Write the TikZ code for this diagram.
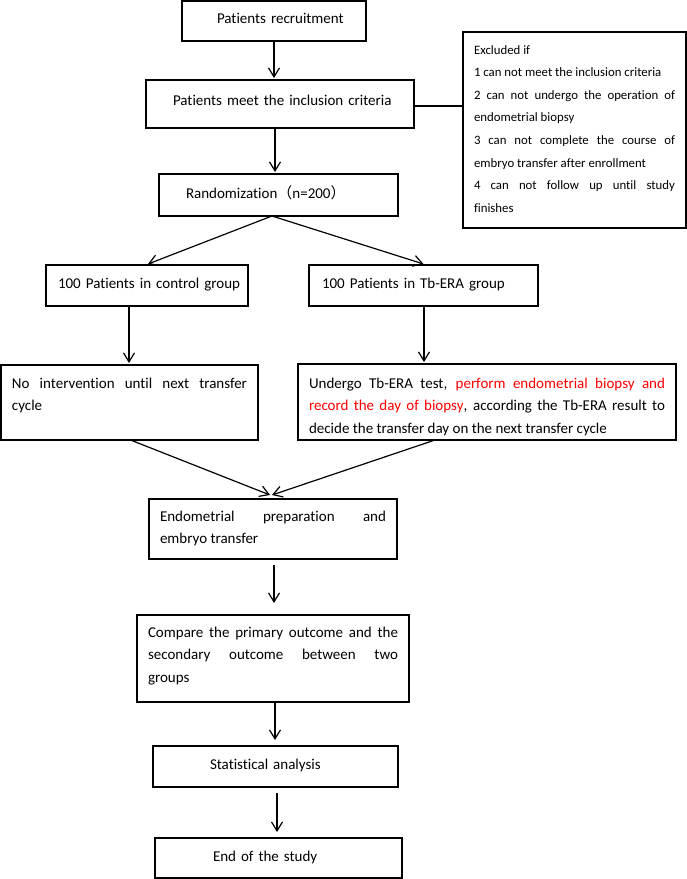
\documentclass[tikz,border=0pt]{standalone}
\usepackage{fontspec}
\setmainfont{Carlito}[Ligatures=NoCommon]
\newfontfamily\cjk{Noto Sans CJK SC}
\usetikzlibrary{arrows.meta,calc}
\begin{document}
\begin{tikzpicture}[x=1pt,y=-1pt,
  box/.style={draw=black, line width=1.1pt, inner ysep=0pt, inner xsep=6pt, outer sep=0pt,
    anchor=base west, align=left, font=\fontsize{15}{22.5}\selectfont},
  jbox/.style={box, align=justify, inner xsep=11pt},
  arr/.style={line width=1.2pt, -{Straight Barb[length=9pt,width=11pt]}},
  ln/.style={line width=1.2pt}]
\useasboundingbox (0,0) rectangle (687,879);

\node[box, text width=172pt, text height=22pt, text depth=18pt] (rec) at (182,23) {\hspace*{29pt}Patients recruitment};
\node[box, text width=256pt, text height=25pt, text depth=23pt] (inc) at (146,105) {\hspace*{21pt}Patients meet the inclusion criteria};
\node[jbox, text width=201pt, text height=22pt, text depth=174pt, font=\fontsize{12.8}{22.6}\selectfont] (excl) at (463,54)
  {Excluded if\par
   1 can not meet the inclusion criteria\par
   2 can not undergo the operation of\linebreak endometrial biopsy\par
   3 can not complete the course of\linebreak embryo transfer after enrollment\par
   4 can not follow up until study\linebreak finishes};
\node[box, text width=227pt, text height=24pt, text depth=18pt] (rand) at (159,198) {\hspace*{21pt}Randomization{\cjk （}n=200{\cjk ）}};
\node[box, text width=190pt, text height=23pt, text depth=18pt] (ctl) at (46,288) {\hspace*{6pt}100 Patients in control group};
\node[box, text width=217pt, text height=23pt, text depth=18pt] (tb) at (309,288) {\hspace*{7pt}100 Patients in Tb-ERA group};
\node[jbox, text width=235pt, text height=23pt, text depth=52pt] (noint) at (1,388)
  {No intervention until next transfer\linebreak cycle};
\node[jbox, text width=356pt, text height=24pt, text depth=52pt] (tbd) at (298,388)
  {Undergo Tb-ERA test, \textcolor{red}{perform endometrial biopsy and}\linebreak
   \textcolor{red}{record the day of biopsy}, according the Tb-ERA result to\linebreak
   decide the transfer day on the next transfer cycle};
\node[jbox, text width=226pt, text height=22pt, text depth=38pt] (endo) at (149,521)
  {Endometrial preparation and\linebreak embryo transfer};
\node[jbox, text width=250pt, text height=22pt, text depth=65pt] (cmp) at (137,637)
  {Compare the primary outcome and the\linebreak secondary outcome between two\linebreak groups};
\node[box, text width=233pt, text height=23pt, text depth=18pt] (stat) at (153,769) {\hspace*{51pt}Statistical analysis};
\node[box, text width=235pt, text height=23pt, text depth=17pt] (fin) at (155,861) {\hspace*{52pt}End of the study};

\draw[arr] (rec.south) -- ($(rec.south |- inc.north)+(0,-2)$);
\draw[ln] ($(inc.east)+(0,2)$) -- ($(inc.east -| excl.west)+(0,2)$);
\draw[arr] ($(inc.south)+(-5,0)$) -- ($(inc.south |- rand.north)+(-5,-2)$);
\draw[arr] ($(rand.south)+(-6.5,0)$) -- ($(ctl.north)+(1,-1)$);
\draw[arr] ($(rand.south)+(-6.5,0)$) -- ($(tb.north)+(0,-1)$);
\draw[arr] ($(ctl.south)+(-18,0)$) -- ($(ctl.south |- noint.north)+(-18,-2)$);
\draw[arr] ($(tb.south)+(0.5,0)$) -- ($(tb.south |- tbd.north)+(0.5,-2)$);
\draw[arr] ($(noint.south)+(1,0)$) -- ($(endo.north)+(-3,-4)$);
\draw[arr] ($(tbd.south)+(-52,0)$) -- ($(endo.north)+(-1,-4)$);
\draw[arr] ($(endo.south)+(1,6)$) -- ($(endo.south |- cmp.north)+(1,-12)$);
\draw[arr] ($(cmp.south)+(2,0)$) -- ($(cmp.south |- stat.north)+(2,-6)$);
\draw[arr] ($(stat.south)+(1.5,6)$) -- ($(stat.south |- fin.north)+(1.5,-6)$);
\end{tikzpicture}
\end{document}
